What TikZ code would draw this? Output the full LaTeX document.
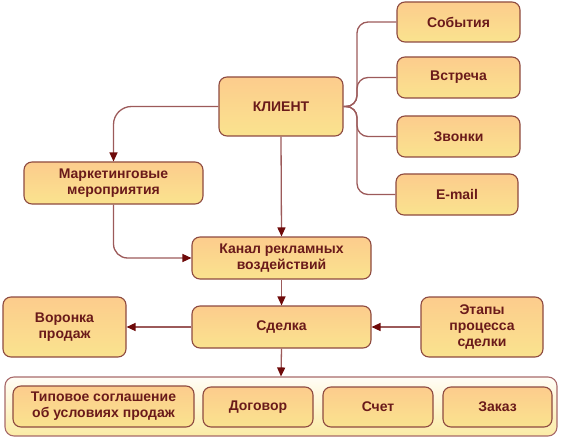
\documentclass[tikz,border=0pt]{standalone}
\usepackage{fontspec}
\setmainfont{Liberation Sans}
\usetikzlibrary{arrows.meta}
\definecolor{boxtop}{HTML}{FCCC8D}
\definecolor{boxbot}{HTML}{FAE38E}
\definecolor{boxborder}{HTML}{8E4A40}
\definecolor{txt}{HTML}{6A1A1A}
\definecolor{linec}{HTML}{9C5A5A}
\definecolor{arrowc}{HTML}{6E0A0A}
\definecolor{conttop}{HTML}{FFFDF6}
\definecolor{contbot}{HTML}{FBEBA5}
\definecolor{contborder}{HTML}{A86A6A}
\tikzset{
  box/.style={rounded corners=8pt, draw=boxborder, line width=1.1pt,
    top color=boxtop, bottom color=boxbot, text=txt, align=center,
    inner sep=0pt, font=\fontsize{14}{16}\selectfont\bfseries},
  container/.style={rounded corners=9pt, draw=contborder, line width=1.1pt,
    top color=conttop, bottom color=contbot, inner sep=0pt},
  conn/.style={draw=linec, line width=1.3pt},
  arr/.style={conn, -{Triangle[length=9pt,width=8pt,color=arrowc]}},
}
\begin{document}
\begin{tikzpicture}[x=1pt,y=-1pt]
\useasboundingbox (0,0) rectangle (561,438);
% container
\node[container, minimum width=552pt, minimum height=59pt] (cont) at (281,406.5) {};
% boxes
\node[box, minimum width=123pt, minimum height=40pt] (sob) at (458.5,22) {События};
\node[box, minimum width=123pt, minimum height=41pt] (vst) at (458.5,77.5) {Встреча};
\node[box, minimum width=123pt, minimum height=41pt] (zvon) at (458.5,136.5) {Звонки};
\node[box, minimum width=122pt, minimum height=41pt] (email) at (457,194.5) {E-mail};
\node[box, minimum width=124pt, minimum height=59pt] (klient) at (281,106.5) {КЛИЕНТ};
\node[box, minimum width=179pt, minimum height=42pt] (mark) at (113.5,183) {Маркетинговые\\мероприятия};
\node[box, minimum width=179pt, minimum height=42pt] (kanal) at (281.5,258) {Канал рекламных\\воздействий};
\node[box, minimum width=123pt, minimum height=60pt] (voronka) at (64.5,327) {Воронка\\продаж};
\node[box, minimum width=179pt, minimum height=42pt] (sdelka) at (281.5,327) {Сделка};
\node[box, minimum width=122pt, minimum height=60pt] (etapy) at (482,327) {Этапы\\процесса\\сделки};
\node[box, minimum width=181pt, minimum height=41pt] (tip) at (103.5,406.5) {Типовое соглашение\\об условиях продаж};
\node[box, minimum width=110pt, minimum height=40pt] (dog) at (258,407) {Договор};
\node[box, minimum width=110pt, minimum height=40pt] (schet) at (378,407) {Счет};
\node[box, minimum width=109pt, minimum height=40pt] (zakaz) at (497.5,407) {Заказ};
% connectors
\coordinate (trunk) at (357,106.5);
\draw[conn, rounded corners=11pt] (klient.east) -- (trunk) |- (sob.west);
\draw[conn, rounded corners=11pt] (klient.east) -- (trunk) |- (vst.west);
\draw[conn, rounded corners=11pt] (klient.east) -- (trunk) |- (zvon.west);
\draw[conn, rounded corners=11pt] (klient.east) -- (trunk) |- (email.west);
\draw[arr, rounded corners=18pt] (klient.west) -| (mark.north);
\draw[arr, rounded corners=14pt] (mark.south) |- (kanal.west);
\draw[arr] (klient.south) -- (kanal.north);
\draw[arr] (kanal.south) -- (sdelka.north);
\draw[arr] (sdelka.west) -- (voronka.east);
\draw[arr] (etapy.west) -- (sdelka.east);
\draw[arr] (sdelka.south) -- (cont.north);
\end{tikzpicture}
\end{document}
